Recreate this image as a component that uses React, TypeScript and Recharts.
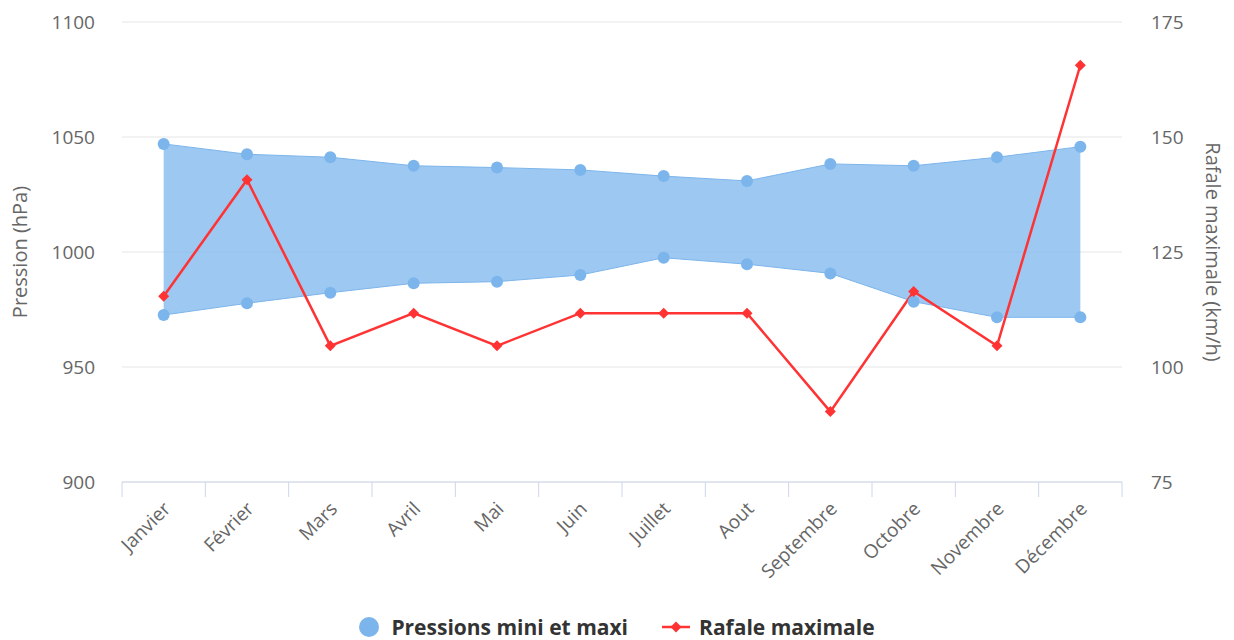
import React from 'react';
import {
  ComposedChart,
  Area,
  Line,
  XAxis,
  YAxis,
  CartesianGrid,
} from 'recharts';

const MONTHS = [
  'Janvier', 'Février', 'Mars', 'Avril', 'Mai', 'Juin',
  'Juillet', 'Aout', 'Septembre', 'Octobre', 'Novembre', 'Décembre',
];
const PRESSION_MIN = [972.6, 977.7, 982.3, 986.4, 987.1, 990.0, 997.5, 994.7, 990.7, 978.4, 971.6, 971.6];
const PRESSION_MAX = [1047.0, 1042.5, 1041.2, 1037.5, 1036.7, 1035.7, 1033.0, 1030.9, 1038.3, 1037.5, 1041.2, 1045.8];
const RAFALE = [115.4, 140.7, 104.6, 111.7, 104.6, 111.7, 111.7, 111.7, 90.3, 116.4, 104.6, 165.6];

const PRESSION_TICKS = [900, 950, 1000, 1050, 1100];
const RAFALE_TICKS = [75, 100, 125, 150, 175];

const BLUE = '#7cb5ec';
const RED = '#ff3333';

const data = MONTHS.map((month, i) => ({
  idx: i,
  month,
  min: PRESSION_MIN[i],
  max: PRESSION_MAX[i],
  range: [PRESSION_MIN[i], PRESSION_MAX[i]],
  rafale: RAFALE[i],
}));

// labels on whole indices, tick marks on the half steps between months
const xTicks: number[] = [-0.5];
MONTHS.forEach((_, i) => xTicks.push(i, i + 0.5));

const XTick = (props: any) => {
  const { x, y, payload } = props;
  const v = payload.value;
  if (Number.isInteger(v)) {
    return (
      <text
        transform={`translate(${x + 8},${y + 28}) rotate(-45)`}
        textAnchor="end"
        fill="#666"
        fontSize={19}
      >
        {MONTHS[v]}
      </text>
    );
  }
  return <line x1={x} x2={x} y1={y} y2={y + 15} stroke="#ccd6eb" strokeWidth={1} />;
};

const Diamond = (props: any) => {
  const { cx, cy } = props;
  if (cx == null || cy == null) return null;
  const s = 5.5;
  return (
    <path
      d={`M${cx},${cy - s}L${cx + s},${cy}L${cx},${cy + s}L${cx - s},${cy}Z`}
      fill={RED}
    />
  );
};

export default function App() {
  return (
    <div
      style={{
        position: 'absolute',
        left: 0,
        top: 0,
        width: 1234,
        height: 640,
        background: '#fff',
        fontFamily: '"Open Sans", sans-serif',
      }}
    >
      <ComposedChart
        width={1234}
        height={640}
        data={data}
        margin={{ top: 22, right: 0, bottom: 0, left: 0 }}
      >
        <CartesianGrid yAxisId="p" vertical={false} stroke="#e6e6e6" />
        <XAxis
          dataKey="idx"
          type="number"
          domain={[-0.5, 11.5]}
          ticks={xTicks}
          interval={0}
          height={158}
          tickSize={0}
          tickMargin={0}
          tickLine={false}
          axisLine={{ stroke: '#ccd6eb' }}
          tick={<XTick />}
        />
        <YAxis
          yAxisId="p"
          domain={[900, 1100]}
          ticks={PRESSION_TICKS}
          width={122}
          axisLine={false}
          tickLine={false}
          tickSize={0}
          tickMargin={27}
          tick={{ fill: '#666', fontSize: 19 }}
          label={{
            content: ({ viewBox }: any) => (
              <text
                transform={`translate(${viewBox.x + 27},${viewBox.y + viewBox.height / 2}) rotate(-90)`}
                textAnchor="middle"
                fill="#666"
                fontSize={20}
              >
                Pression (hPa)
              </text>
            ),
          }}
        />
        <YAxis
          yAxisId="r"
          orientation="right"
          domain={[75, 175]}
          ticks={RAFALE_TICKS}
          width={112}
          axisLine={false}
          tickLine={false}
          tickSize={0}
          tickMargin={29}
          tick={{ fill: '#666', fontSize: 19 }}
          label={{
            content: ({ viewBox }: any) => (
              <text
                transform={`translate(${viewBox.x + 84},${viewBox.y + viewBox.height / 2}) rotate(90)`}
                textAnchor="middle"
                fill="#666"
                fontSize={20}
              >
                Rafale maximale (km/h)
              </text>
            ),
          }}
        />
        <Area
          yAxisId="p"
          type="linear"
          dataKey="range"
          fill={BLUE}
          fillOpacity={0.75}
          stroke={BLUE}
          strokeWidth={1}
          dot={false}
          activeDot={false}
          isAnimationActive={false}
        />
        <Line
          yAxisId="p"
          type="linear"
          dataKey="max"
          stroke="none"
          dot={{ r: 6, fill: BLUE, stroke: 'none' }}
          activeDot={false}
          isAnimationActive={false}
        />
        <Line
          yAxisId="p"
          type="linear"
          dataKey="min"
          stroke="none"
          dot={{ r: 6, fill: BLUE, stroke: 'none' }}
          activeDot={false}
          isAnimationActive={false}
        />
        <Line
          yAxisId="r"
          type="linear"
          dataKey="rafale"
          stroke={RED}
          strokeWidth={2.5}
          dot={<Diamond />}
          activeDot={false}
          isAnimationActive={false}
        />
      </ComposedChart>
      <div
        style={{
          position: 'absolute',
          left: 0,
          top: 612,
          width: 1234,
          height: 30,
          display: 'flex',
          justifyContent: 'center',
          alignItems: 'center',
          fontSize: 21,
          fontWeight: 'bold',
          color: '#333',
        }}
      >
        <svg width={20} height={20} style={{ marginRight: 12 }}>
          <circle cx={10} cy={10} r={10} fill={BLUE} />
        </svg>
        <span style={{ marginRight: 34 }}>Pressions mini et maxi</span>
        <svg width={28} height={14} style={{ marginRight: 9 }}>
          <line x1={0} x2={28} y1={7} y2={7} stroke={RED} strokeWidth={2.5} />
          <path d="M14,1.5L19.5,7L14,12.5L8.5,7Z" fill={RED} />
        </svg>
        <span>Rafale maximale</span>
      </div>
    </div>
  );
}
